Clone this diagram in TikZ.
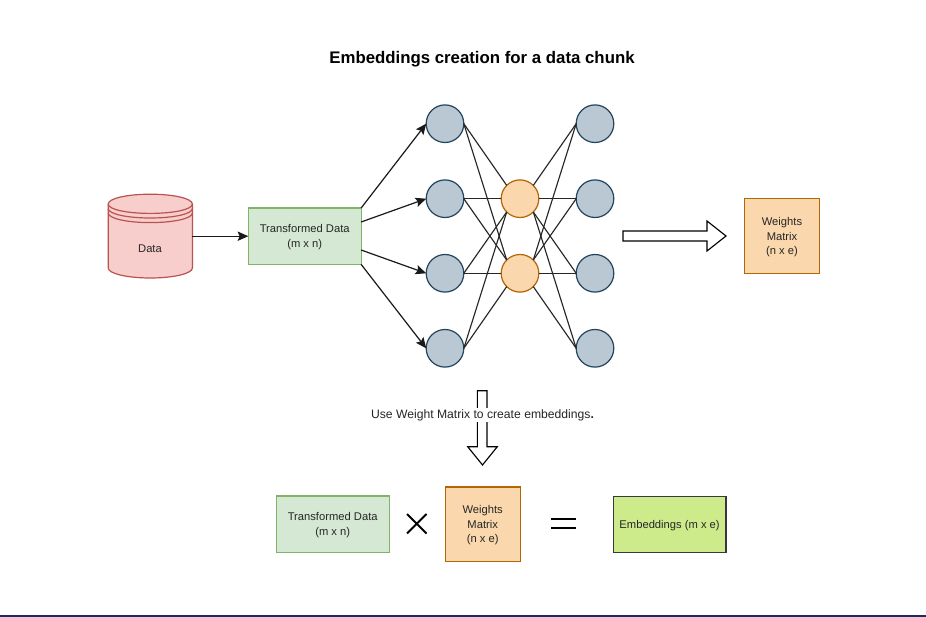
\documentclass[tikz,border=0pt]{standalone}
\usepackage{fontspec}
\setmainfont{Liberation Sans}
\usetikzlibrary{arrows.meta}
\definecolor{greenF}{HTML}{D5E8D4}\definecolor{greenD}{HTML}{82B366}
\definecolor{redF}{HTML}{F8CECC}\definecolor{redD}{HTML}{B85450}
\definecolor{orangeF}{HTML}{FAD7AC}\definecolor{orangeD}{HTML}{B46504}
\definecolor{blueF}{HTML}{BAC8D3}\definecolor{blueD}{HTML}{23445D}
\definecolor{limeF}{HTML}{CDEB8B}\definecolor{limeD}{HTML}{36393D}
\definecolor{navyline}{HTML}{1F2A5E}
\newcommand{\tstrut}{\rule{0pt}{7.6pt}}
\tikzset{
  px/.style={x=0.75pt,y=-0.75pt},
  base/.style={inner sep=0pt,outer sep=0pt,line width=0.9pt,align=center,font=\fontsize{8.4pt}{11pt}\selectfont,text=black!85},
  tdbox/.style={base,draw=greenD,fill=greenF,minimum width=84.6pt,minimum height=42.2pt},
  wbox/.style={base,draw=orangeD,fill=orangeF,minimum width=56.4pt,minimum height=56.1pt},
  embbox/.style={base,draw=limeD,fill=limeF,minimum width=84.6pt,minimum height=42.2pt},
  innode/.style={base,circle,draw=blueD,fill=blueF,minimum size=28.2pt},
  hidnode/.style={base,circle,draw=orangeD,fill=orangeF,minimum size=28.2pt},
  link/.style={line width=0.85pt,draw=black!85},
  feed/.style={line width=0.9pt,draw=black!90,-{Stealth[length=8pt,width=7pt,inset=1.5pt]}},
  blockarrow/.style={line width=0.85pt,draw=black,fill=white},
  mathsign/.style={line width=1.4pt,draw=black},
  lbl/.style={inner sep=0pt,font=\fontsize{9.12pt}{11pt}\selectfont,text=black!85}
}
\begin{document}
\begin{tikzpicture}[px]
\useasboundingbox (0,0) rectangle (926,617);
\fill[white] (0,0) rectangle (926,617);
\node[inner sep=0pt,font=\bfseries\fontsize{12.6pt}{14pt}\selectfont] (title) at (482,59) {Embeddings creation for a data chunk};
% cylinder
\draw[line width=0.9pt,draw=redD,fill=redF] (108.2,204) .. controls (108.2,198.5) and (127,194.2) .. (150.3,194.2) .. controls (173.6,194.2) and (192.4,198.5) .. (192.4,204) -- (192.4,268) .. controls (192.4,273.5) and (173.6,278) .. (150.3,278) .. controls (127,278) and (108.2,273.5) .. (108.2,268) -- cycle;
\draw[line width=0.9pt,draw=redD] (108.2,204) .. controls (108.2,209.5) and (127,213.4) .. (150.3,213.4) .. controls (173.6,213.4) and (192.4,209.5) .. (192.4,204);
\draw[line width=0.9pt,draw=redD] (108.2,208.5) .. controls (108.2,214) and (127,218) .. (150.3,218) .. controls (173.6,218) and (192.4,214) .. (192.4,208.5);
\draw[line width=0.9pt,draw=redD] (108.2,213) .. controls (108.2,218.5) and (127,222.6) .. (150.3,222.6) .. controls (173.6,222.6) and (192.4,218.5) .. (192.4,213);
\node[inner sep=0pt,outer sep=0pt,minimum width=63.2pt,minimum height=63pt] (data) at (150.3,236.2) {};
\node[base] (datalabel) at (150,249) {Data};
\node[tdbox] (td) at (304.7,236.2) {\tstrut Transformed Data\\(m x n)};
% circles
\foreach \n/\y in {1/123.7,2/198.7,3/273.3,4/348.3}{
  \node[innode] (l\n) at (445,\y) {};
  \node[innode] (r\n) at (595,\y) {};
}
\node[hidnode] (m1) at (520,198.7) {};
\node[hidnode] (m2) at (520,273.3) {};
% links
\draw[link] (l1.east) -- (m1.north west);
\draw[link] (l1.east) -- (m2.north west);
\draw[link] (l2.east) -- (m1.west);
\draw[link] (l2.east) -- (m2.north west);
\draw[link] (l3.east) -- (m1.south west);
\draw[link] (l3.east) -- (m2.west);
\draw[link] (l4.east) -- (m1.south west);
\draw[link] (l4.east) -- (m2.south west);
\draw[link] (m1.north east) -- (r1.west);
\draw[link] (m1.east) -- (r2.west);
\draw[link] (m1.south east) -- (r3.west);
\draw[link] (m1.south east) -- (r4.west);
\draw[link] (m2.north east) -- (r1.west);
\draw[link] (m2.north east) -- (r2.west);
\draw[link] (m2.east) -- (r3.west);
\draw[link] (m2.south east) -- (r4.west);
% feeds
\coordinate (t2) at (361.1,222);
\coordinate (t3) at (361.1,250);
\draw[feed] (data.east) -- (td.west);
\draw[feed] (td.north east) -- (l1.west);
\draw[feed] (t2) -- (l2.west);
\draw[feed] (t3) -- (l3.west);
\draw[feed] (td.south east) -- (l4.west);
% right block arrow
\draw[blockarrow] (623,231) -- (707,231) -- (707,221) -- (726,236) -- (707,251) -- (707,241) -- (623,241) -- cycle;
\node[wbox] (w1) at (782,236.2) {\tstrut Weights\\Matrix\\(n x e)};
% down block arrow
\draw[blockarrow] (477.4,390.7) -- (487,390.7) -- (487,446.7) -- (497.3,446.7) -- (482.5,465) -- (467.7,446.7) -- (477.4,446.7) -- cycle;
\node[lbl,fill=white,inner ysep=1pt] (use) at (482.5,415) {Use Weight Matrix to create embeddings\textbf{.}};
% bottom row
\node[tdbox] (td2) at (332.7,524.2) {\tstrut Transformed Data\\(m x n)};
\node[wbox] (w2) at (482.7,524.3) {\tstrut Weights\\Matrix\\(n x e)};
\node[embbox] (emb) at (669.6,524.4) {\tstrut Embeddings (m x e)};
\draw[mathsign] (407,514) -- (426.5,533.5) (426.5,514) -- (407,533.5);
\draw[mathsign] (551,519.3) -- (576,519.3) (551,528) -- (576,528);
\fill[navyline] (0,615.4) rectangle (926,617);
\end{tikzpicture}
\end{document}
